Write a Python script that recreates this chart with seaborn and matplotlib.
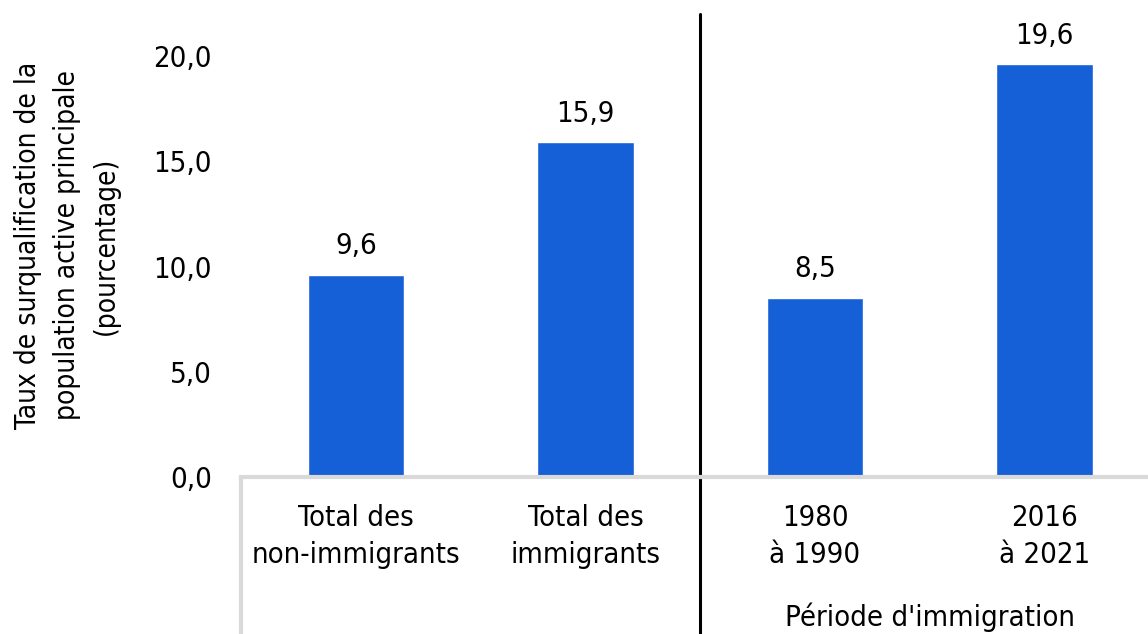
import matplotlib
matplotlib.use('Agg')
import matplotlib.pyplot as plt
from matplotlib import font_manager as fm
import seaborn as sns
import pandas as pd

# Chart data
categories = ['Total des\nnon-immigrants', 'Total des\nimmigrants', '1980\nà 1990', '2016\nà 2021']
values = [9.6, 15.9, 8.5, 19.6]
yticks = [0, 5, 10, 15, 20]
group_label = "Période d'immigration"
ylabel = 'Taux de surqualification de la\npopulation active principale\n(pourcentage)'

sns.set_style('white')

# look for a narrow face, the original uses an Arial Narrow-like font
condensed = [f for f in fm.fontManager.ttflist
             if f.name == 'DejaVu Sans' and 'condensed' in str(f.stretch)]
if condensed:
    plt.rcParams['font.family'] = ['DejaVu Sans']
    plt.rcParams['font.stretch'] = 'condensed'
    fs = 21
else:
    plt.rcParams['font.family'] = ['Liberation Sans', 'DejaVu Sans']
    fs = 20
plt.rcParams['text.color'] = 'black'

df = pd.DataFrame({'cat': categories, 'val': values})

fig = plt.figure(figsize=(11.48, 6.34), dpi=100)
ax = fig.add_axes([0.2099, 0.2476, 0.7901, 0.7304])

sns.barplot(data=df, x='cat', y='val', color='#1560d6', width=0.42,
            saturation=1, ax=ax)

for i, v in enumerate(values):
    ax.text(i, v + 0.7, f'{v:.1f}'.replace('.', ','), ha='center', va='bottom',
            fontsize=fs, color='black')

ax.set_ylim(0, 22)
ax.set_xlim(-0.5, 3.45)
ax.set_yticks(yticks)
ax.set_yticklabels([f'{t:.1f}'.replace('.', ',') for t in yticks], fontsize=fs, color='black')
ax.set_xticks([])
ax.set_xlabel('')
ax.set_ylabel(ylabel, fontsize=fs - 0.8, labelpad=24, linespacing=1.5, color='black')
ax.tick_params(axis='y', length=0, pad=21)

for s in ['top', 'right', 'left']:
    ax.spines[s].set_visible(False)
ax.spines['bottom'].set_color('#d9d9d9')
ax.spines['bottom'].set_linewidth(3)

# category labels below the axis
for i, c in enumerate(categories):
    ax.text(i, -1.3, c, ha='center', va='top', fontsize=fs, linespacing=1.4)

ax.text(2.5, -5.95, group_label, ha='center', va='top', fontsize=fs)

# left gray border of the category area
ax.plot([-0.5, -0.5], [0, -7.5], color='#d9d9d9', lw=3, clip_on=False)
# black separator between groups
ax.plot([1.5, 1.5], [22, -7.5], color='black', lw=2.2, clip_on=False)

fig.savefig('out.png', dpi=100)
